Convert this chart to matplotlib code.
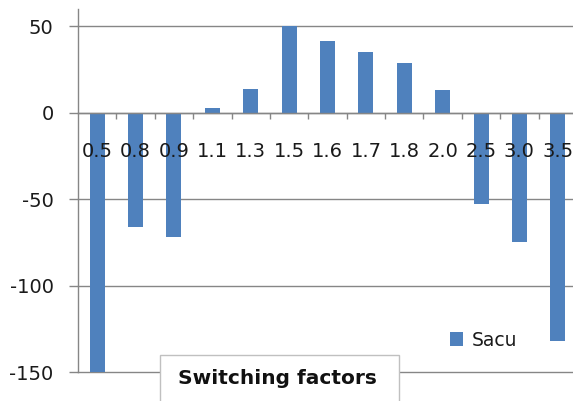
import matplotlib
matplotlib.use("Agg")
import matplotlib.pyplot as plt
from matplotlib.patches import Rectangle
import numpy as np

# Chart data
categories = ["0.5", "0.8", "0.9", "1.1", "1.3", "1.5", "1.6",
              "1.7", "1.8", "2.0", "2.5", "3.0", "3.5"]
sacu = [-150, -66, -72, 3, 14, 50, 41.5, 35, 29, 13, -53, -75, -132]
y_ticks = [-150, -100, -50, 0, 50]
series_name = "Sacu"
x_title = "Switching factors"

plt.rcParams['font.family'] = ['DejaVu Sans']
plt.rcParams['axes.unicode_minus'] = False

W, H = 573, 401
GRAY = "#868686"
BLUE = "#4F81BD"

fig = plt.figure(figsize=(W / 100, H / 100), dpi=100)
ax = fig.add_axes([78 / W, 29 / H, (577 - 78) / W, (392 - 29) / H])

x = np.arange(len(categories))
ax.bar(x, sacu, width=0.39, color=BLUE, zorder=2, label=series_name)

ax.set_xlim(-0.5, len(categories) - 0.5)
ax.set_ylim(-150, 60)

# spines
for side in ("top", "right"):
    ax.spines[side].set_visible(False)
ax.spines["left"].set_color(GRAY)
ax.spines["left"].set_linewidth(1.0)
ax.spines["bottom"].set_position(("data", 0))
ax.spines["bottom"].set_color(GRAY)
ax.spines["bottom"].set_linewidth(1.0)

# value axis
ax.set_yticks(y_ticks)
ax.yaxis.grid(True, color=GRAY, linewidth=1.0)
for gl in ax.get_ygridlines():
    gl.set_clip_on(False)
ax.yaxis.set_zorder(0.5)
ax.tick_params(axis="y", length=6.5, width=1.0, color=GRAY, pad=11,
               labelsize=14, labelcolor="#1a1a1a")

# category axis
ax.set_xticks(x)
ax.set_xticklabels(categories)
ax.set_xticks(np.arange(0.5, len(categories) - 0.5, 1), minor=True)
ax.tick_params(axis="x", which="major", length=0, pad=21,
               labelsize=14, labelcolor="#1a1a1a")
ax.tick_params(axis="x", which="minor", length=4.3, width=1.0,
               color=GRAY, direction="out")
ax.xaxis.set_zorder(3)

# legend
ax.legend(loc="center left", bbox_to_anchor=(450 / W, 1 - 340 / H),
          bbox_transform=fig.transFigure, frameon=False, fontsize=13.5,
          handlelength=0.7, handleheight=0.8, handletextpad=0.45,
          borderpad=0, borderaxespad=0, labelcolor="#1a1a1a")

# axis title in a framed box
fig.add_artist(Rectangle((160 / W, -0.01), 239 / W, 50 / H,
                         transform=fig.transFigure, facecolor="white",
                         edgecolor="#c0c0c0", linewidth=1.0, zorder=5))
fig.text(277 / W, 1 - 379 / H, x_title, ha="center", va="center",
         fontweight="bold", fontsize=14.5, color="#111111", zorder=6)

fig.savefig("out.png", dpi=100)
